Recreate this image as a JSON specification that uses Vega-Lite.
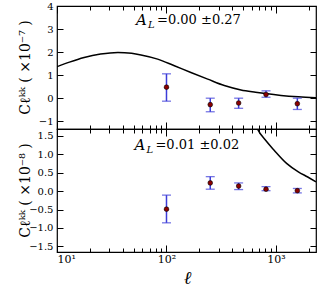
{
  "$schema": "https://vega.github.io/schema/vega-lite/v6.json",
  "padding": {"left": 17, "top": 0, "right": 7, "bottom": 0},
  "spacing": 0,
  "bounds": "flush",
  "config": {
    "view": {"stroke": "#000", "strokeWidth": 1.2},
    "axis": {"domain": false, "tickColor": "#000", "tickWidth": 1, "labelColor": "#000", "labelFont": "DejaVu Serif", "labelFontSize": 10, "grid": false, "titleColor": "#000"},
    "font": "DejaVu Serif"
  },
  "datasets": {
    "pts": [
      {"panel": "top", "ell": 100, "val": 0.49, "lo": -0.12, "hi": 1.07},
      {"panel": "top", "ell": 251, "val": -0.27, "lo": -0.58, "hi": 0.01},
      {"panel": "top", "ell": 456, "val": -0.2, "lo": -0.43, "hi": 0.01},
      {"panel": "top", "ell": 811, "val": 0.17, "lo": 0.05, "hi": 0.33},
      {"panel": "top", "ell": 1567, "val": -0.23, "lo": -0.48, "hi": 0.01},
      {"panel": "bottom", "ell": 100, "val": -0.49, "lo": -0.86, "hi": -0.11},
      {"panel": "bottom", "ell": 251, "val": 0.22, "lo": 0.05, "hi": 0.39},
      {"panel": "bottom", "ell": 456, "val": 0.135, "lo": 0.04, "hi": 0.22},
      {"panel": "bottom", "ell": 811, "val": 0.05, "lo": 0.01, "hi": 0.12},
      {"panel": "bottom", "ell": 1567, "val": 0.01, "lo": -0.05, "hi": 0.07}
    ],
    "theory": [
      {"panel": "top", "ell": 10, "val": 1.38},
      {"panel": "top", "ell": 13, "val": 1.58},
      {"panel": "top", "ell": 17.7, "val": 1.78},
      {"panel": "top", "ell": 25, "val": 1.93},
      {"panel": "top", "ell": 36, "val": 2.0},
      {"panel": "top", "ell": 48, "val": 1.96},
      {"panel": "top", "ell": 58.5, "val": 1.89},
      {"panel": "top", "ell": 83, "val": 1.71},
      {"panel": "top", "ell": 118, "val": 1.42},
      {"panel": "top", "ell": 167, "val": 1.13},
      {"panel": "top", "ell": 238, "val": 0.84},
      {"panel": "top", "ell": 337, "val": 0.56},
      {"panel": "top", "ell": 479, "val": 0.37},
      {"panel": "top", "ell": 650, "val": 0.27},
      {"panel": "top", "ell": 800, "val": 0.21},
      {"panel": "top", "ell": 1111, "val": 0.13},
      {"panel": "top", "ell": 1600, "val": 0.07},
      {"panel": "top", "ell": 2320, "val": 0.03},
      {"panel": "bottom", "ell": 600, "val": 2.1},
      {"panel": "bottom", "ell": 681, "val": 1.67},
      {"panel": "bottom", "ell": 800, "val": 1.38},
      {"panel": "bottom", "ell": 966, "val": 1.1},
      {"panel": "bottom", "ell": 1250, "val": 0.75},
      {"panel": "bottom", "ell": 1600, "val": 0.52},
      {"panel": "bottom", "ell": 1950, "val": 0.38},
      {"panel": "bottom", "ell": 2320, "val": 0.25}
    ],
    "notes": [
      {"panel": "top", "ell": 52.7, "val": 3.39, "a": "A", "sub": "L", "rest": "=0.00 ±0.27"},
      {"panel": "bottom", "ell": 51, "val": 1.24, "a": "A", "sub": "L", "rest": "=0.01 ±0.02"}
    ]
  },
  "vconcat": [
    {
      "height": 123,
      "width": 259,
      "resolve": {"axis": {"x": "independent", "y": "independent"}},
      "layer": [
        {
          "data": {"name": "theory"},
          "transform": [{"filter": "datum.panel == 'top'"}],
          "mark": {"type": "line", "color": "#000", "strokeWidth": 1.5, "interpolate": "monotone", "clip": true},
          "encoding": {
            "x": {"field": "ell", "type": "quantitative", "scale": {"type": "log", "domain": [10, 2320], "nice": false},
              "axis": {"orient": "bottom", "values": [10,20,30,40,50,60,70,80,90,100,200,300,400,500,600,700,800,900,1000,2000], "labels": false, "title": null,
                "tickSize": {"condition": {"test": "datum.value == 10 || datum.value == 100 || datum.value == 1000", "value": -7}, "value": -4}}},
            "y": {"field": "val", "type": "quantitative", "scale": {"domain": [-1.33, 4.02], "nice": false, "zero": false},
              "axis": {"orient": "left", "values": [-1,0,1,2,3,4], "format": "d", "tickSize": -6, "labelPadding": 10,
                "title": "Cℓᵏᵏ  ( ×10⁻⁷ )", "titleFontSize": 14, "titleFont": "DejaVu Serif", "titleFontWeight": "normal", "titleAngle": -90, "titleX": -32, "titleY": 61, "titleAlign": "center", "titleBaseline": "middle"}}
          }
        },
        {
          "data": {"name": "theory"},
          "transform": [{"filter": "datum.panel == 'top'"}],
          "mark": {"type": "point", "opacity": 0},
          "encoding": {
            "x": {"field": "ell", "type": "quantitative",
              "axis": {"orient": "top", "values": [10,20,30,40,50,60,70,80,90,100,200,300,400,500,600,700,800,900,1000,2000], "labels": false, "title": null,
                "tickSize": {"condition": {"test": "datum.value == 10 || datum.value == 100 || datum.value == 1000", "value": -7}, "value": -4}}},
            "y": {"field": "val", "type": "quantitative",
              "axis": {"orient": "right", "values": [-1,0,1,2,3,4], "labels": false, "title": null, "tickSize": -6}}
          }
        },
        {
          "mark": {"type": "rule", "color": "#000", "strokeWidth": 1.5, "strokeDash": [7, 4]},
          "encoding": {"y": {"datum": 0, "type": "quantitative", "axis": null}}
        },
        {
          "data": {"name": "pts"},
          "transform": [{"filter": "datum.panel == 'top'"}],
          "layer": [
            {"mark": {"type": "rule", "color": "#3c3cd8", "strokeWidth": 1.5},
             "encoding": {"x": {"field": "ell", "type": "quantitative", "axis": null}, "y": {"field": "lo", "type": "quantitative", "axis": null}, "y2": {"field": "hi"}}},
            {"mark": {"type": "tick", "orient": "horizontal", "color": "#3c3cd8", "size": 9, "thickness": 1.3},
             "encoding": {"x": {"field": "ell", "type": "quantitative", "axis": null}, "y": {"field": "lo", "type": "quantitative", "axis": null}}},
            {"mark": {"type": "tick", "orient": "horizontal", "color": "#3c3cd8", "size": 9, "thickness": 1.3},
             "encoding": {"x": {"field": "ell", "type": "quantitative", "axis": null}, "y": {"field": "hi", "type": "quantitative", "axis": null}}},
            {"mark": {"type": "point", "filled": true, "fill": "#8b0000", "stroke": "#000", "strokeWidth": 0.6, "size": 22, "opacity": 1},
             "encoding": {"x": {"field": "ell", "type": "quantitative", "axis": null}, "y": {"field": "val", "type": "quantitative", "axis": null}}}
          ]
        },
        {
          "data": {"name": "notes"},
          "transform": [{"filter": "datum.panel == 'top'"}],
          "layer": [
            {"mark": {"type": "text", "align": "left", "baseline": "middle", "fontSize": 15, "fontStyle": "italic", "font": "DejaVu Serif", "color": "#000"},
             "encoding": {"x": {"field": "ell", "type": "quantitative", "axis": null}, "y": {"field": "val", "type": "quantitative", "axis": null}, "text": {"field": "a"}}},
            {"mark": {"type": "text", "align": "left", "baseline": "middle", "fontSize": 10, "fontStyle": "italic", "font": "DejaVu Serif", "color": "#000", "dx": 12, "dy": 5},
             "encoding": {"x": {"field": "ell", "type": "quantitative", "axis": null}, "y": {"field": "val", "type": "quantitative", "axis": null}, "text": {"field": "sub"}}},
            {"mark": {"type": "text", "align": "left", "baseline": "middle", "fontSize": 13, "font": "DejaVu Serif", "color": "#000", "dx": 21},
             "encoding": {"x": {"field": "ell", "type": "quantitative", "axis": null}, "y": {"field": "val", "type": "quantitative", "axis": null}, "text": {"field": "rest"}}}
          ]
        }
      ]
    },
    {
      "height": 123,
      "width": 259,
      "resolve": {"axis": {"x": "independent", "y": "independent"}},
      "layer": [
        {
          "data": {"name": "theory"},
          "transform": [{"filter": "datum.panel == 'bottom'"}],
          "mark": {"type": "line", "color": "#000", "strokeWidth": 1.5, "interpolate": "monotone", "clip": true},
          "encoding": {
            "x": {"field": "ell", "type": "quantitative", "scale": {"type": "log", "domain": [10, 2320], "nice": false},
              "axis": {"orient": "bottom", "values": [10,20,30,40,50,60,70,80,90,100,200,300,400,500,600,700,800,900,1000,2000],
                "labelExpr": "datum.value == 10 ? '10¹' : datum.value == 100 ? '10²' : datum.value == 1000 ? '10³' : ''",
                "labelPadding": 8, "labelFontSize": 11,
                "tickSize": {"condition": {"test": "datum.value == 10 || datum.value == 100 || datum.value == 1000", "value": -7}, "value": -4},
                "title": "ℓ", "titleFontSize": 18, "titleFont": "DejaVu Serif", "titleFontStyle": "italic", "titleFontWeight": "normal", "titleX": 130, "titleY": 26, "titleBaseline": "middle", "titleAlign": "center"}},
            "y": {"field": "val", "type": "quantitative", "scale": {"domain": [-1.65, 1.68], "nice": false, "zero": false},
              "axis": {"orient": "left", "values": [-1.5,-1,-0.5,0,0.5,1,1.5], "format": ".1f", "tickSize": -6, "labelPadding": 10,
                "title": "Cℓᵏᵏ  ( ×10⁻⁸ )", "titleFontSize": 14, "titleFont": "DejaVu Serif", "titleFontWeight": "normal", "titleAngle": -90, "titleX": -32, "titleY": 61, "titleAlign": "center", "titleBaseline": "middle"}}
          }
        },
        {
          "data": {"name": "theory"},
          "transform": [{"filter": "datum.panel == 'bottom'"}],
          "mark": {"type": "point", "opacity": 0},
          "encoding": {
            "x": {"field": "ell", "type": "quantitative",
              "axis": {"orient": "top", "values": [10,20,30,40,50,60,70,80,90,100,200,300,400,500,600,700,800,900,1000,2000], "labels": false, "title": null,
                "tickSize": {"condition": {"test": "datum.value == 10 || datum.value == 100 || datum.value == 1000", "value": -7}, "value": -4}}},
            "y": {"field": "val", "type": "quantitative",
              "axis": {"orient": "right", "values": [-1.5,-1,-0.5,0,0.5,1,1.5], "labels": false, "title": null, "tickSize": -6}}
          }
        },
        {
          "mark": {"type": "rule", "color": "#000", "strokeWidth": 1.5, "strokeDash": [7, 4]},
          "encoding": {"y": {"datum": 0, "type": "quantitative", "axis": null}}
        },
        {
          "data": {"name": "pts"},
          "transform": [{"filter": "datum.panel == 'bottom'"}],
          "layer": [
            {"mark": {"type": "rule", "color": "#3c3cd8", "strokeWidth": 1.5},
             "encoding": {"x": {"field": "ell", "type": "quantitative", "axis": null}, "y": {"field": "lo", "type": "quantitative", "axis": null}, "y2": {"field": "hi"}}},
            {"mark": {"type": "tick", "orient": "horizontal", "color": "#3c3cd8", "size": 9, "thickness": 1.3},
             "encoding": {"x": {"field": "ell", "type": "quantitative", "axis": null}, "y": {"field": "lo", "type": "quantitative", "axis": null}}},
            {"mark": {"type": "tick", "orient": "horizontal", "color": "#3c3cd8", "size": 9, "thickness": 1.3},
             "encoding": {"x": {"field": "ell", "type": "quantitative", "axis": null}, "y": {"field": "hi", "type": "quantitative", "axis": null}}},
            {"mark": {"type": "point", "filled": true, "fill": "#8b0000", "stroke": "#000", "strokeWidth": 0.6, "size": 22, "opacity": 1},
             "encoding": {"x": {"field": "ell", "type": "quantitative", "axis": null}, "y": {"field": "val", "type": "quantitative", "axis": null}}}
          ]
        },
        {
          "data": {"name": "notes"},
          "transform": [{"filter": "datum.panel == 'bottom'"}],
          "layer": [
            {"mark": {"type": "text", "align": "left", "baseline": "middle", "fontSize": 15, "fontStyle": "italic", "font": "DejaVu Serif", "color": "#000"},
             "encoding": {"x": {"field": "ell", "type": "quantitative", "axis": null}, "y": {"field": "val", "type": "quantitative", "axis": null}, "text": {"field": "a"}}},
            {"mark": {"type": "text", "align": "left", "baseline": "middle", "fontSize": 10, "fontStyle": "italic", "font": "DejaVu Serif", "color": "#000", "dx": 12, "dy": 5},
             "encoding": {"x": {"field": "ell", "type": "quantitative", "axis": null}, "y": {"field": "val", "type": "quantitative", "axis": null}, "text": {"field": "sub"}}},
            {"mark": {"type": "text", "align": "left", "baseline": "middle", "fontSize": 13, "font": "DejaVu Serif", "color": "#000", "dx": 21},
             "encoding": {"x": {"field": "ell", "type": "quantitative", "axis": null}, "y": {"field": "val", "type": "quantitative", "axis": null}, "text": {"field": "rest"}}}
          ]
        }
      ]
    }
  ]
}
